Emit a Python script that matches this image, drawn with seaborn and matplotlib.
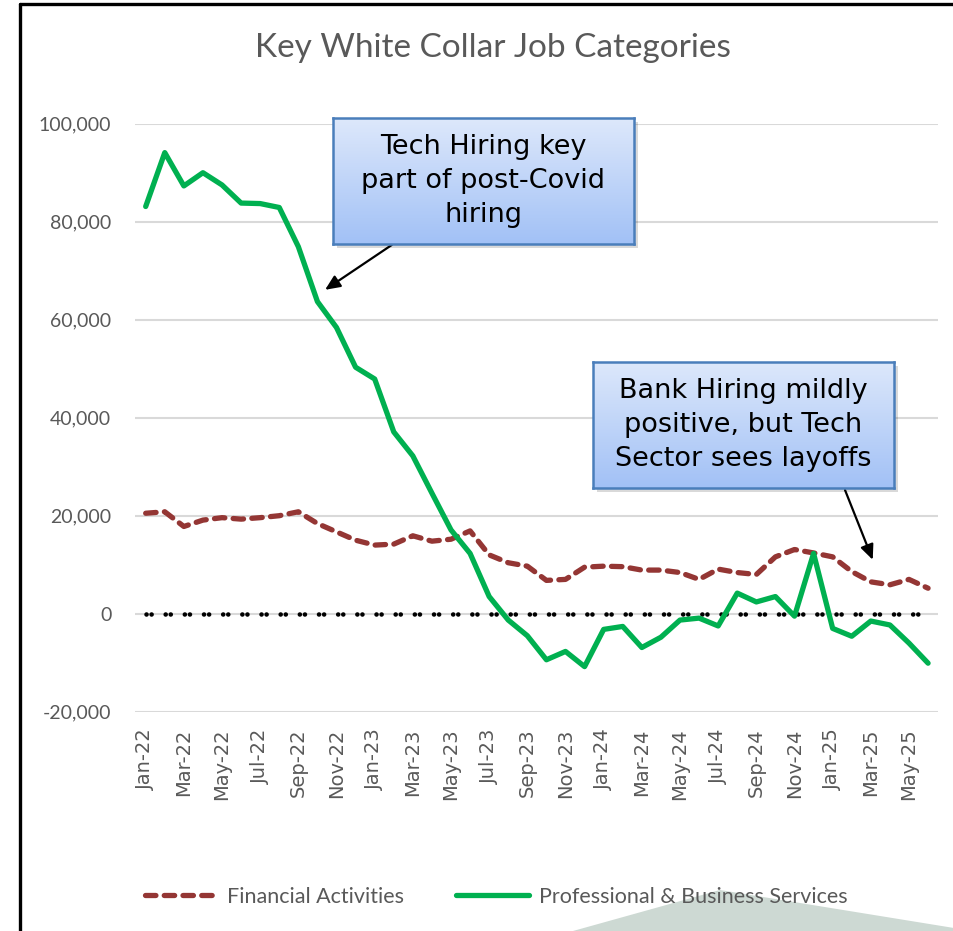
import numpy as np
import pandas as pd
import matplotlib
matplotlib.use("Agg")
import matplotlib.pyplot as plt
from matplotlib.patches import Polygon, Rectangle
from matplotlib.lines import Line2D
import seaborn as sns

# === data (monthly change) ===
months = pd.date_range("2022-01-01", periods=42, freq="MS").strftime("%b-%y").tolist()

financial = [20500, 20800, 17800, 19100, 19600, 19300, 19600, 20000, 20800, 18400,
             16700, 15000, 14000, 14200, 15900, 14800, 15200, 16900, 12000, 10400,
             9700, 6800, 7000, 9500, 9700, 9600, 8900, 8900, 8400, 7000,
             9100, 8400, 8000, 11600, 13100, 12400, 11600, 8600, 6500, 5900,
             7000, 5200]

professional = [83100, 94100, 87300, 90000, 87500, 83800, 83700, 82900, 74900, 63700,
                58400, 50300, 47900, 37100, 32200, 24600, 17100, 12300, 3500, -1300,
                -4500, -9400, -7700, -10800, -3200, -2600, -6900, -4800, -1300, -900,
                -2500, 4200, 2400, 3500, -500, 12300, -3000, -4600, -1500, -2300,
                -6000, -10100]

zero_line = [0] * 42

series_names = ["Financial Activities", "Professional & Business Services"]
title = "Key White Collar Job Categories"
note_tech = "Tech Hiring key\npart of post-Covid\nhiring"
note_bank = "Bank Hiring mildly\npositive, but Tech\nSector sees layoffs"

df = pd.DataFrame({"idx": range(len(months)), "month": months,
                   "fin": financial, "pro": professional, "zero": zero_line})

# === style ===
sns.set_style("white")
plt.rcParams["font.family"] = ["Lato", "DejaVu Sans"]
plt.rcParams["lines.scale_dashes"] = False

W, H = 954, 931
fig = plt.figure(figsize=(W / 100, H / 100), dpi=100)
ax = fig.add_axes([135 / W, 1 - 711.7 / H, 803 / W, 588 / H])

grey = "#595959"
red = "#943634"
green = "#00b050"

# background slide shape at the bottom right
tri = Polygon([(573 / W, 0), (720 / W, 1 - 890 / H), (954 / W, 1 - 928 / H), (1, 0)],
              closed=True, transform=fig.transFigure, facecolor="#cdd9d3",
              edgecolor="none", zorder=0)
fig.patches.append(tri)

# frame lines of the slide object (left and top only)
fig.add_artist(Line2D([20 / W, 20 / W], [0, 1 - 4 / H], color="black", lw=2.4,
                      transform=fig.transFigure))
fig.add_artist(Line2D([20 / W, 1], [1 - 4 / H, 1 - 4 / H], color="black", lw=2.4,
                      transform=fig.transFigure))

ax.set_facecolor("none")

# zero line drawn as a series (round dots in pairs)
sns.lineplot(data=df, x="idx", y="zero", ax=ax, color="black", lw=3.3, zorder=2)
ax.lines[-1].set_dashes((0.05, 3.6, 0.05, 10.1))
ax.lines[-1].set_dash_capstyle("round")

sns.lineplot(data=df, x="idx", y="fin", ax=ax, color=red, lw=3.8, zorder=3,
             label=series_names[0])
ax.lines[-1].set_dashes((7.5, 6.0))
ax.lines[-1].set_dash_capstyle("round")
sns.lineplot(data=df, x="idx", y="pro", ax=ax, color=green, lw=3.8, zorder=4,
             label=series_names[1])

ax.set_xlim(-0.56, 41.52)
ax.set_ylim(-20000, 100000)
ax.set_yticks(np.arange(-20000, 100001, 20000))
ax.yaxis.set_major_formatter(matplotlib.ticker.FuncFormatter(lambda v, p: f"{int(v):,}"))
ax.set_xticks(df["idx"][::2])
ax.set_xticklabels(df["month"][::2], rotation=90, family="DejaVu Sans",
                   fontsize=14, color=grey)
ax.tick_params(axis="x", length=0, pad=12)
ax.tick_params(axis="y", length=0, pad=17, labelsize=14, labelcolor=grey)
ax.grid(axis="y", color="#d9d9d9", lw=1.5, zorder=0)
ax.set_axisbelow(True)
ax.set_xlabel("")
ax.set_ylabel("")
for s in ax.spines.values():
    s.set_visible(False)

# legend at the bottom
h, l = ax.get_legend_handles_labels()
ax.get_legend().remove()
fig.legend(h, l, loc="center", bbox_to_anchor=(0.52, 1 - 897 / H), ncol=2,
           frameon=False, fontsize=15.5, labelcolor=grey, handlelength=3.4,
           columnspacing=2.4, handletextpad=0.45)

fig.text(493 / W, 1 - 48 / H, title, ha="center", va="center", fontsize=24, color=grey)


# call-out boxes with a blue gradient
def callout(x0, y0, x1, y1, text):
    rect = [x0 / W, 1 - y1 / H, (x1 - x0) / W, (y1 - y0) / H]
    shadow = Rectangle((rect[0] + 4 / W, rect[1] - 4 / H), rect[2], rect[3],
                       transform=fig.transFigure, facecolor="#000000", alpha=0.15,
                       edgecolor="none", zorder=5)
    fig.patches.append(shadow)
    bx = fig.add_axes(rect, zorder=6)
    grad = np.linspace(0, 1, 100).reshape(-1, 1)
    cmap = matplotlib.colors.LinearSegmentedColormap.from_list("b", ["#dde8fb", "#a2c1f6"])
    bx.imshow(grad, aspect="auto", cmap=cmap, extent=[0, 1, 0, 1], origin="upper")
    bx.set_xticks([])
    bx.set_yticks([])
    for s in bx.spines.values():
        s.set_color("#4a7ebb")
        s.set_linewidth(1.8)
    bx.text(0.5, 0.5, text, ha="center", va="center", fontsize=19.5,
            family="DejaVu Sans", color="black", linespacing=1.4,
            transform=bx.transAxes)


callout(333, 118, 634, 244, note_tech)
callout(593, 362, 894, 488, note_bank)

ax.annotate("", xy=(9.4, 66100), xycoords="data",
            xytext=(391.7 / W, 1 - 245 / H), textcoords="figure fraction",
            arrowprops=dict(arrowstyle="-|>,head_length=0.9,head_width=0.4",
                            color="black", lw=1.6, shrinkA=0, shrinkB=0), zorder=5)
ax.annotate("", xy=(38.1, 11000), xycoords="data",
            xytext=(845 / W, 1 - 490 / H), textcoords="figure fraction",
            arrowprops=dict(arrowstyle="-|>,head_length=0.9,head_width=0.4",
                            color="black", lw=1.6, shrinkA=0, shrinkB=0), zorder=5)

fig.savefig("out.png", dpi=100, facecolor="white")
